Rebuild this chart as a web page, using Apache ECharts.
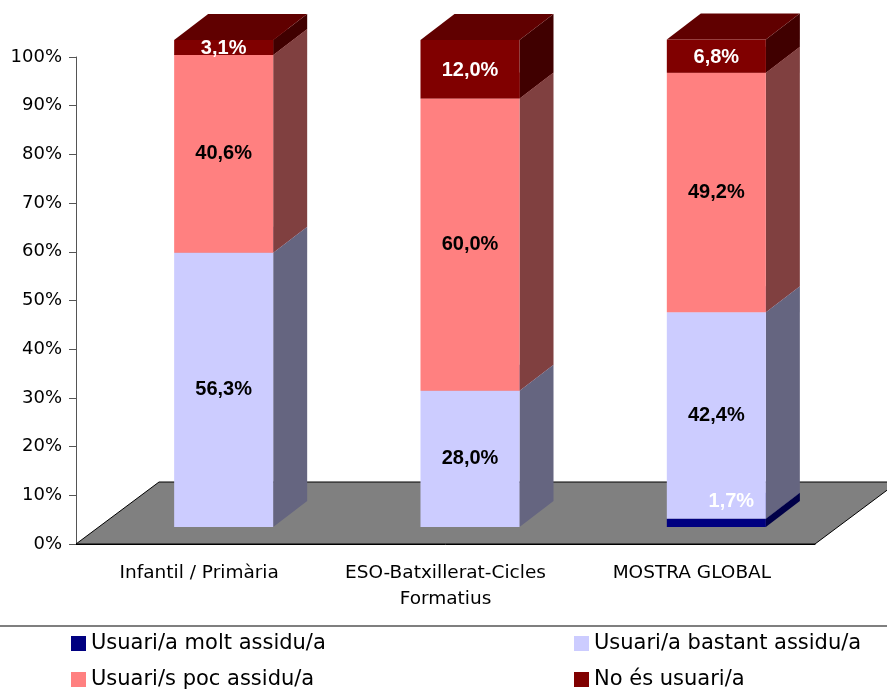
<!DOCTYPE html>
<html>
<head>
<meta charset="utf-8">
<title>Usuaris de biblioteca</title>
<script src="https://cdn.jsdelivr.net/npm/echarts@6/dist/echarts.min.js"></script>
<style>
  html, body { margin: 0; padding: 0; background: #fff; }
  #chart { width: 887px; height: 690px; }
</style>
</head>
<body>
<div id="chart"></div>
<script>
"use strict";

// categories and values (%)
var categories = ['Infantil / Primària', 'ESO-Batxillerat-Cicles\nFormatius', 'MOSTRA GLOBAL'];
var seriesNames = ['Usuari/a molt assidu/a', 'Usuari/a bastant assidu/a', 'Usuari/s poc assidu/a', 'No és usuari/a'];
var moltAssidu = [0, 0, 1.7];
var bastantAssidu = [56.3, 28.0, 42.4];
var pocAssidu = [40.6, 60.0, 49.2];
var noUsuari = [3.1, 12.0, 6.8];

var FONT = 'DejaVu Sans, Liberation Sans, sans-serif';
var BOLD_FONT = 'Liberation Sans, Arial, sans-serif';

// 3D look: front face offset from the axis plane, box depth, floor depth
var SHIFT = [24.5, -17];
var DEPTH = [34, -26];
var FLOOR = [83, -62];
var BAR_RATIO = 0.402;

// per layer: front, side, top colours, label colour, label offset
var layers = [
  { values: moltAssidu, front: '#000080', side: '#000048', top: '#000060', label: '#ffffff', off: [15, -21] },
  { values: bastantAssidu, front: '#ccccff', side: '#656580', top: '#a0a0cc', label: '#000000', off: [0, 0] },
  { values: pocAssidu, front: '#ff8080', side: '#804040', top: '#cc6666', label: '#000000', off: [0, 0] },
  { values: noUsuari, front: '#800000', side: '#400000', top: '#600000', label: '#ffffff', off: [0, 1] }
];

function fmt(v) {
  return v.toFixed(1).replace('.', ',') + '%';
}

/**
 * build stacked data [cat, base, top, value] for one layer
 */
function stackData(idx) {
  return categories.map(function (c, i) {
    var base = 0;
    for (var k = 0; k < idx; k++) {
      base += layers[k].values[i];
    }
    return [i, base, base + layers[idx].values[i], layers[idx].values[i]];
  });
}

function makeLayer(idx) {
  var L = layers[idx];
  return {
    name: seriesNames[idx],
    type: 'custom',
    itemStyle: { color: L.front },
    z: 3,
    data: stackData(idx),
    renderItem: function (params, api) {
      var val = api.value(3);
      if (!val) {
        return null;
      }
      var cat = api.value(0);
      var p0 = api.coord([cat, api.value(1)]);
      var p1 = api.coord([cat, api.value(2)]);
      var bw = api.size([1, 0])[0] * BAR_RATIO;
      var x0 = p0[0] - bw / 2 + SHIFT[0], x1 = x0 + bw;
      var yb = p0[1] + SHIFT[1], yt = p1[1] + SHIFT[1];
      return {
        type: 'group',
        children: [
          {
            type: 'polygon',
            shape: { points: [[x1, yb], [x1 + DEPTH[0], yb + DEPTH[1]], [x1 + DEPTH[0], yt + DEPTH[1]], [x1, yt]] },
            style: { fill: L.side }
          },
          {
            type: 'polygon',
            shape: { points: [[x0, yt], [x1, yt], [x1 + DEPTH[0], yt + DEPTH[1]], [x0 + DEPTH[0], yt + DEPTH[1]]] },
            style: { fill: L.top }
          },
          {
            type: 'rect',
            shape: { x: x0, y: yt, width: bw, height: yb - yt },
            style: { fill: L.front }
          },
          {
            type: 'text',
            z2: 10,
            style: {
              text: fmt(val),
              x: (x0 + x1) / 2 + L.off[0],
              y: (yb + yt) / 2 + L.off[1],
              align: 'center',
              verticalAlign: 'middle',
              fill: L.label,
              font: 'bold 20px ' + BOLD_FONT
            }
          }
        ]
      };
    }
  };
}

var floorSeries = {
  name: 'floor',
  type: 'custom',
  silent: true,
  z: 1,
  data: [[0, 0]],
  renderItem: function (params, api) {
    var band = api.size([1, 0])[0];
    var left = api.coord([0, 0])[0] - band / 2;
    var right = api.coord([categories.length - 1, 0])[0] + band / 2;
    var y = api.coord([0, 0])[1];
    return {
      type: 'polygon',
      shape: { points: [[left, y], [right, y], [right + FLOOR[0], y + FLOOR[1]], [left + FLOOR[0], y + FLOOR[1]]] },
      style: { fill: '#808080', stroke: '#000', lineWidth: 1 }
    };
  }
};

var chart = echarts.init(document.getElementById('chart'));

chart.setOption({
  animation: false,
  backgroundColor: '#ffffff',
  grid: { left: 76, right: 72, top: 57, bottom: 146 },
  xAxis: {
    type: 'category',
    data: categories,
    boundaryGap: true,
    axisLine: { lineStyle: { color: '#000', width: 1 } },
    axisTick: { length: 9, lineStyle: { color: '#000' } },
    axisLabel: { color: '#000', fontFamily: FONT, fontSize: 18.5, lineHeight: 26, margin: 16, interval: 0 },
    splitLine: { show: false }
  },
  yAxis: {
    type: 'value',
    min: 0,
    max: 100,
    interval: 10,
    axisLine: { show: true, lineStyle: { color: '#555', width: 1 } },
    axisTick: { show: true, length: 7, lineStyle: { color: '#555' } },
    axisLabel: { color: '#000', fontFamily: FONT, fontSize: 18, margin: 14, formatter: '{value}%' },
    splitLine: { show: false }
  },
  legend: [
    {
      left: 71, top: 633, orient: 'vertical', itemGap: 15, padding: 0,
      itemWidth: 15, itemHeight: 15, icon: 'rect',
      textStyle: { color: '#000', fontFamily: FONT, fontSize: 21 },
      data: [seriesNames[0], seriesNames[2]]
    },
    {
      left: 574, top: 633, orient: 'vertical', itemGap: 15, padding: 0,
      itemWidth: 15, itemHeight: 15, icon: 'rect',
      textStyle: { color: '#000', fontFamily: FONT, fontSize: 21 },
      data: [seriesNames[1], seriesNames[3]]
    }
  ],
  graphic: [
    { type: 'line', shape: { x1: 0, y1: 626, x2: 887, y2: 626 }, style: { stroke: '#555', lineWidth: 1.5 } }
  ],
  series: [floorSeries, makeLayer(0), makeLayer(1), makeLayer(2), makeLayer(3)]
});

window.addEventListener('resize', function () {
  chart.resize();
});
</script>
</body>
</html>
